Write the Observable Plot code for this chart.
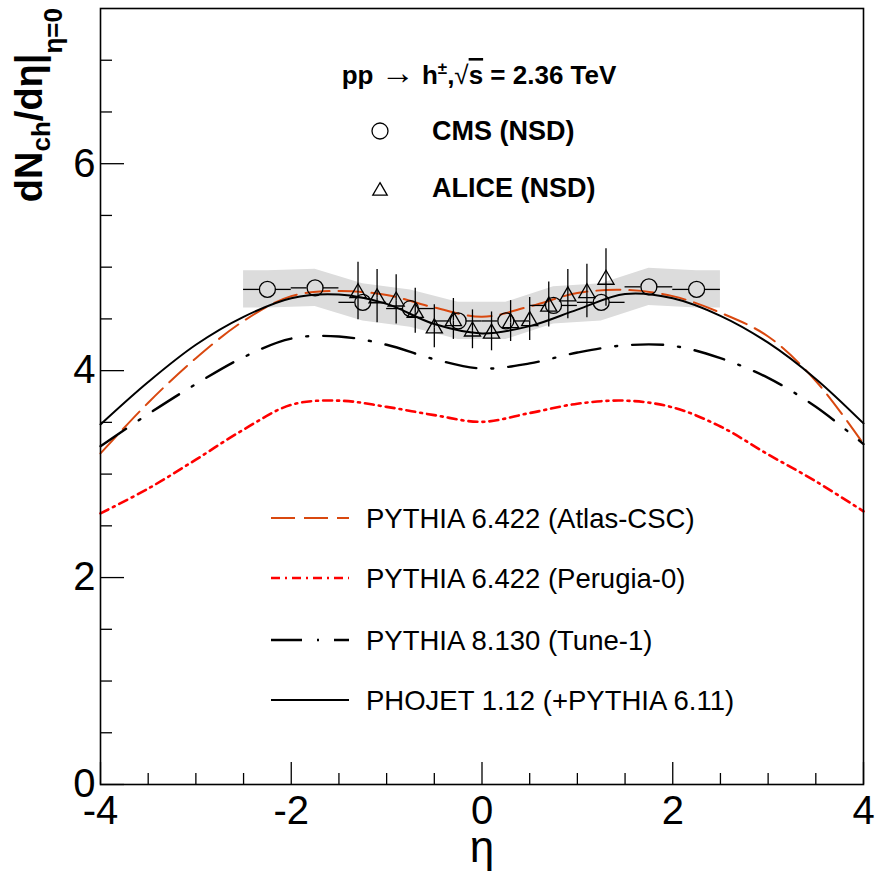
<!DOCTYPE html>
<html><head><meta charset="utf-8">
<script src="https://cdn.jsdelivr.net/npm/d3@7"></script>
<script src="https://cdn.jsdelivr.net/npm/@observablehq/plot@0.6"></script>
<style>body{margin:0;background:#fff}svg{display:block}</style>
</head><body><div id="chart"></div>
<script>
// ---- data ----
const etaGrid   = [-4, -3.5, -3, -2.5, -2, -1.5, -1, -0.5, 0, 0.5, 1, 1.5, 2, 2.5, 3, 3.5, 4];
const atlasCSC  = [3.20, 3.69, 4.12, 4.48, 4.72, 4.77, 4.73, 4.61, 4.52, 4.62, 4.75, 4.78, 4.72, 4.56, 4.33, 3.90, 3.29];
const perugia0  = [2.62, 2.86, 3.14, 3.43, 3.67, 3.71, 3.65, 3.57, 3.505, 3.59, 3.68, 3.71, 3.645, 3.46, 3.19, 2.93, 2.64];
const tune1     = [3.27, 3.58, 3.87, 4.13, 4.31, 4.33, 4.25, 4.11, 4.02, 4.07, 4.175, 4.245, 4.24, 4.12, 3.93, 3.65, 3.29];
const phojet    = [3.48, 3.89, 4.25, 4.52, 4.70, 4.735, 4.645, 4.45, 4.36, 4.43, 4.59, 4.74, 4.70, 4.53, 4.27, 3.92, 3.49];

const cmsEta = [-2.25, -1.75, -1.25, -0.75, -0.25, 0.25, 0.75, 1.25, 1.75, 2.25];
const cmsVal = [4.785, 4.80, 4.66, 4.60, 4.48, 4.48, 4.63, 4.66, 4.81, 4.785];
const cmsSys = [0.18, 0.18, 0.18, 0.18, 0.18, 0.18, 0.18, 0.18, 0.18, 0.18];
const cmsBinHalf = 0.25;

const aliceEta = [-1.3, -1.1, -0.9, -0.7, -0.5, -0.3, -0.1, 0.1, 0.3, 0.5, 0.7, 0.9, 1.1, 1.3];
const aliceVal = [4.75, 4.70, 4.67, 4.56, 4.41, 4.48, 4.38, 4.36, 4.46, 4.48, 4.62, 4.72, 4.75, 4.88];
const aliceErr = [0.21, 0.19, 0.17, 0.15, 0.14, 0.13, 0.12, 0.12, 0.13, 0.14, 0.15, 0.17, 0.19, 0.21];

const xMajor = [-4, -2, 0, 2, 4];
const xMinor = [-3.5, -3, -2.5, -1.5, -1, -0.5, 0.5, 1, 1.5, 2.5, 3, 3.5];
const yMajor = [0, 2, 4, 6];
const yMinor = [0.5, 1, 1.5, 2.5, 3, 3.5, 4.5, 5, 5.5, 6.5, 7];

const seriesNames = ["PYTHIA 6.422 (Atlas-CSC)", "PYTHIA 6.422 (Perugia-0)", "PYTHIA 8.130 (Tune-1)", "PHOJET 1.12 (+PYTHIA 6.11)"];

// ---- styles ----
const W = 875, H = 873, mL = 100, mR = 12, mT = 8, mB = 89;
const innerW = W - mL - mR, innerH = H - mT - mB;
const FONT = "'Liberation Sans', Arial, Helvetica, sans-serif";
const curveStyles = [
  {values: atlasCSC, stroke: "#d9480f", width: 2, dash: "24,9"},
  {values: perugia0, stroke: "#ff0000", width: 2.6, dash: "9,5,2,5"},
  {values: tune1,    stroke: "#000000", width: 2.4, dash: "31,15,2,15"},
  {values: phojet,   stroke: "#000000", width: 2, dash: null}
];

const cms = cmsEta.map((x, i) => ({x, v: cmsVal[i], s: cmsSys[i]}));
const band = [{x: -2.5, v: cmsVal[0], s: cmsSys[0]}, ...cms,
              {x: 2.5, v: cmsVal[cmsVal.length - 1], s: cmsSys[cmsSys.length - 1]}];
const alice = aliceEta.map((x, i) => ({x, v: aliceVal[i], e: aliceErr[i]}));

const plot = Plot.plot({
  width: W, height: H,
  marginLeft: mL, marginRight: mR, marginTop: mT, marginBottom: mB,
  x: {domain: [-4, 4]},
  y: {domain: [0, 7.5]},
  style: {fontFamily: FONT, background: "white", color: "black"},
  marks: [
    Plot.areaY(band, {x: "x", y1: d => d.v - d.s, y2: d => d.v + d.s, fill: "#dcdcdc"}),
    ...curveStyles.map((c) => Plot.line(etaGrid.map((x, i) => ({x, y: c.values[i]})), {
      x: "x", y: "y", stroke: c.stroke, strokeWidth: c.width,
      strokeDasharray: c.dash, curve: "catmull-rom"
    })),
    // CMS horizontal bars
    Plot.ruleY(cms, {y: "v", x1: d => d.x - cmsBinHalf, x2: "x", insetRight: 8, stroke: "black", strokeWidth: 1.3}),
    Plot.ruleY(cms, {y: "v", x1: "x", x2: d => d.x + cmsBinHalf, insetLeft: 8, stroke: "black", strokeWidth: 1.3}),
    Plot.dot(cms, {x: "x", y: "v", r: 8, stroke: "black", fill: "none", strokeWidth: 1.3}),
    // ALICE vertical bars
    Plot.ruleX(alice, {x: "x", y1: "v", y2: d => d.v + d.e, insetBottom: 9, stroke: "black", strokeWidth: 1.3}),
    Plot.ruleX(alice, {x: "x", y1: d => d.v - d.e, y2: "v", insetTop: 5, stroke: "black", strokeWidth: 1.3}),
    Plot.dot(alice, {x: "x", y: "v", r: 6, symbol: "triangle", stroke: "black", fill: "none", strokeWidth: 1.3}),
    Plot.frame({stroke: "black", strokeWidth: 1.6}),
    // ticks (inward)
    Plot.tickX(xMajor, {x: d => d, insetTop: innerH - 22, stroke: "black", strokeWidth: 1.3}),
    Plot.tickX(xMinor, {x: d => d, insetTop: innerH - 11, stroke: "black", strokeWidth: 1.3}),
    Plot.tickY(yMajor, {y: d => d, insetRight: innerW - 24, stroke: "black", strokeWidth: 1.3}),
    Plot.tickY(yMinor, {y: d => d, insetRight: innerW - 12, stroke: "black", strokeWidth: 1.3}),
    Plot.axisX({ticks: xMajor, tickSize: 0, tickPadding: 11, fontSize: 40, tickFormat: d => String(d), label: null}),
    Plot.axisY({ticks: yMajor, tickSize: 0, tickPadding: 5, fontSize: 40, tickFormat: d => String(d), label: null})
  ]
});
document.getElementById("chart").appendChild(plot);

// ---- annotations ----
const svg = d3.select(plot);
const g = svg.append("g").attr("font-family", FONT).attr("fill", "black").attr("text-anchor", "start");

// x title
g.append("text").attr("x", 482).attr("y", 862).attr("text-anchor", "middle")
  .attr("font-size", 44).text("η");

// y title
const yt = g.append("text").attr("transform", "translate(42,8) rotate(-90)")
  .attr("text-anchor", "end").attr("font-weight", "bold").attr("font-size", 38);
yt.append("tspan").text("dN");
yt.append("tspan").attr("font-size", 26).attr("dy", 8).text("ch");
yt.append("tspan").attr("dy", -8).text("/dη|");
yt.append("tspan").attr("font-size", 26).attr("dy", 20).text("η=0");

// header
const hd = g.append("text").attr("x", 479).attr("y", 84).attr("text-anchor", "middle")
  .attr("font-weight", "bold").attr("font-size", 26);
hd.append("tspan").text("pp ");
hd.append("tspan").attr("font-weight", "normal").attr("font-size", 34).text("→");
hd.append("tspan").text(" h");
hd.append("tspan").attr("font-size", 17).attr("dy", -10).text("±");
hd.append("tspan").attr("dy", 10).text(",");
hd.append("tspan").attr("font-weight", "normal").text("√");
hd.append("tspan").attr("text-decoration", "overline").text("s");
hd.append("tspan").text(" = 2.36 TeV");

// data legend
g.append("circle").attr("cx", 380).attr("cy", 131).attr("r", 8)
  .attr("fill", "none").attr("stroke", "black").attr("stroke-width", 1.3);
g.append("text").attr("x", 432).attr("y", 140).attr("font-weight", "bold").attr("font-size", 27).text("CMS (NSD)");
g.append("path").attr("d", d3.symbol(d3.symbolTriangle, 90)()).attr("transform", "translate(380,191)")
  .attr("fill", "none").attr("stroke", "black").attr("stroke-width", 1.3);
g.append("text").attr("x", 432).attr("y", 197).attr("font-weight", "bold").attr("font-size", 27).text("ALICE (NSD)");

// model legend
const rowsY = [518, 578, 640, 700];
curveStyles.forEach((c, i) => {
  g.append("line").attr("x1", 271).attr("x2", 349).attr("y1", rowsY[i]).attr("y2", rowsY[i])
    .attr("stroke", c.stroke).attr("stroke-width", c.width)
    .attr("stroke-dasharray", c.dash);
  g.append("text").attr("x", 366).attr("y", rowsY[i]).attr("dy", "0.36em")
    .attr("font-size", 27.5).text(seriesNames[i]);
});
</script>
</body></html>
